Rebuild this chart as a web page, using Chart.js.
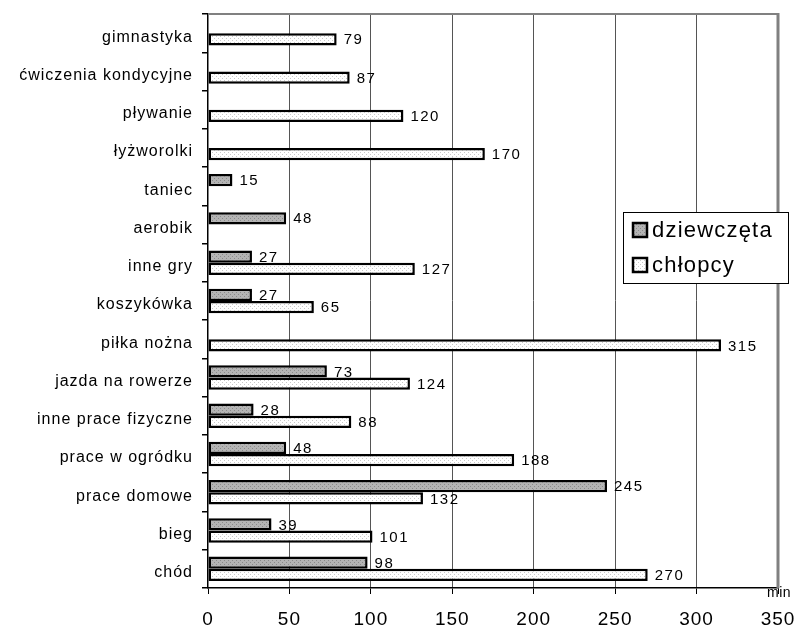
<!DOCTYPE html>
<html>
<head>
<meta charset="utf-8">
<script src="https://cdn.jsdelivr.net/npm/chart.js@4"></script>
<style>
  html, body { margin: 0; padding: 0; background: #fff; }
  #wrap { position: relative; width: 799px; height: 631px; }
</style>
</head>
<body>
<div id="wrap"><canvas id="chart" width="799" height="631"></canvas></div>
<script>
const categories = [
  "gimnastyka", "ćwiczenia kondycyjne", "pływanie", "łyżworolki", "taniec",
  "aerobik", "inne gry", "koszykówka", "piłka nożna", "jazda na rowerze",
  "inne prace fizyczne", "prace w ogródku", "prace domowe", "bieg", "chód"
];
const girls = [null, null, null, null, 15, 48, 27, 27, null, 73, 28, 48, 245, 39, 98];
const boys  = [79, 87, 120, 170, null, null, 127, 65, 315, 124, 88, 188, 132, 101, 270];
const seriesNames = ["dziewczęta", "chłopcy"];
const xTicks = [0, 50, 100, 150, 200, 250, 300, 350];
const unitLabel = "min";

const FONT = "'Liberation Sans', Arial, sans-serif";

// small dotted fills like the original print-style chart
function makePattern(bg, dot){
  const c = document.createElement("canvas");
  c.width = 4; c.height = 4;
  const g = c.getContext("2d");
  g.fillStyle = bg; g.fillRect(0, 0, 4, 4);
  g.fillStyle = dot;
  g.fillRect(0, 0, 1, 1); g.fillRect(2, 2, 1, 1);
  return g.createPattern(c, "repeat");
}
const ctx = document.getElementById("chart").getContext("2d");
const girlFill = makePattern("#b4b4b4", "#8a8a8a");
const boyFill = makePattern("#ffffff", "#c8c8c8");

// the original text is a bit wider spaced than Liberation Sans
const spacing = {
  id: "spacing",
  beforeDraw(chart){ chart.ctx.letterSpacing = "1px"; }
};

const valueLabels = {
  id: "valueLabels",
  afterDatasetsDraw(chart){
    const c = chart.ctx;
    c.save();
    c.letterSpacing = "1.5px";
    c.font = "15px " + FONT;
    c.fillStyle = "#000";
    c.textBaseline = "middle";
    c.textAlign = "left";
    chart.data.datasets.forEach((ds, i) => {
      chart.getDatasetMeta(i).data.forEach((bar, j) => {
        const v = ds.data[j];
        if (v == null) return;
        c.fillText(String(v), bar.x + 7, bar.y + 1);
      });
    });
    c.restore();
  }
};

const frameAndLegend = {
  id: "frameAndLegend",
  afterDraw(chart){
    const c = chart.ctx;
    const a = chart.chartArea;
    c.save();
    // gray top/right frame
    c.strokeStyle = "#808080";
    c.lineWidth = 2;
    c.beginPath();
    c.moveTo(a.left, a.top);
    c.lineTo(a.right, a.top);
    c.stroke();
    c.lineWidth = 3;
    c.beginPath();
    c.moveTo(a.right, a.top - 1);
    c.lineTo(a.right, a.bottom);
    c.stroke();

    // unit label
    c.letterSpacing = "0.5px";
    c.font = "14px " + FONT;
    c.fillStyle = "#000";
    c.textAlign = "center";
    c.textBaseline = "middle";
    c.fillText(unitLabel, a.right + 1, a.bottom + 5);

    // legend box
    const lx = 623, ly = 212, lw = 165, lh = 71;
    c.fillStyle = "#fff";
    c.fillRect(lx, ly, lw, lh);
    c.strokeStyle = "#000";
    c.lineWidth = 1;
    c.strokeRect(lx + 0.5, ly + 0.5, lw, lh);
    const fills = [girlFill, boyFill];
    c.letterSpacing = "1.2px";
    c.font = "22px " + FONT;
    c.textAlign = "left";
    seriesNames.forEach((name, i) => {
      const cy = ly + 18 + i * 35;
      c.fillStyle = fills[i];
      c.fillRect(lx + 9, cy - 8, 16, 16);
      c.strokeStyle = "#000";
      c.lineWidth = 2.5;
      c.strokeRect(lx + 10, cy - 7, 14, 14);
      c.fillStyle = "#000";
      c.fillText(name, lx + 29, cy + 1);
    });
    c.restore();
  }
};

new Chart(ctx, {
  type: "bar",
  data: {
    labels: categories,
    datasets: [
      {
        label: seriesNames[0],
        data: girls,
        backgroundColor: girlFill,
        borderColor: "#000",
        borderWidth: 2.5,
        borderSkipped: false,
        barPercentage: 1,
        categoryPercentage: 0.64
      },
      {
        label: seriesNames[1],
        data: boys,
        backgroundColor: boyFill,
        borderColor: "#000",
        borderWidth: 2.5,
        borderSkipped: false,
        barPercentage: 1,
        categoryPercentage: 0.64
      }
    ]
  },
  options: {
    indexAxis: "y",
    responsive: false,
    animation: false,
    layout: { padding: { top: 14, right: 21, left: 0, bottom: 0 } },
    plugins: {
      legend: { display: false },
      tooltip: { enabled: false }
    },
    scales: {
      x: {
        min: 0,
        max: 350,
        afterBuildTicks: s => { s.ticks = xTicks.map(v => ({ value: v })); },
        afterFit: s => {
          s.height = 43;
          s.paddingLeft = 0;
          s.paddingRight = 0;
        },
        grid: {
          color: ctx => ctx.tick && ctx.tick.value === 0 ? "rgba(0,0,0,0)" : "#555",
          lineWidth: 1,
          tickColor: "#000",
          tickLength: 6,
          drawOnChartArea: true
        },
        border: { color: "#000", width: 1.5 },
        ticks: {
          color: "#000",
          font: { family: FONT, size: 19 },
          padding: 14
        }
      },
      y: {
        afterFit: s => {
          s.width = 208;
          s.paddingTop = 0;
          s.paddingBottom = 0;
        },
        grid: {
          offset: true,
          drawOnChartArea: false,
          tickColor: "#000",
          tickLength: 6,
          lineWidth: 1.5
        },
        border: { color: "#000", width: 1.5 },
        ticks: {
          color: "#000",
          font: { family: FONT, size: 16 },
          padding: 9,
          labelOffset: 4
        }
      }
    }
  },
  plugins: [spacing, valueLabels, frameAndLegend]
});
</script>
</body>
</html>
